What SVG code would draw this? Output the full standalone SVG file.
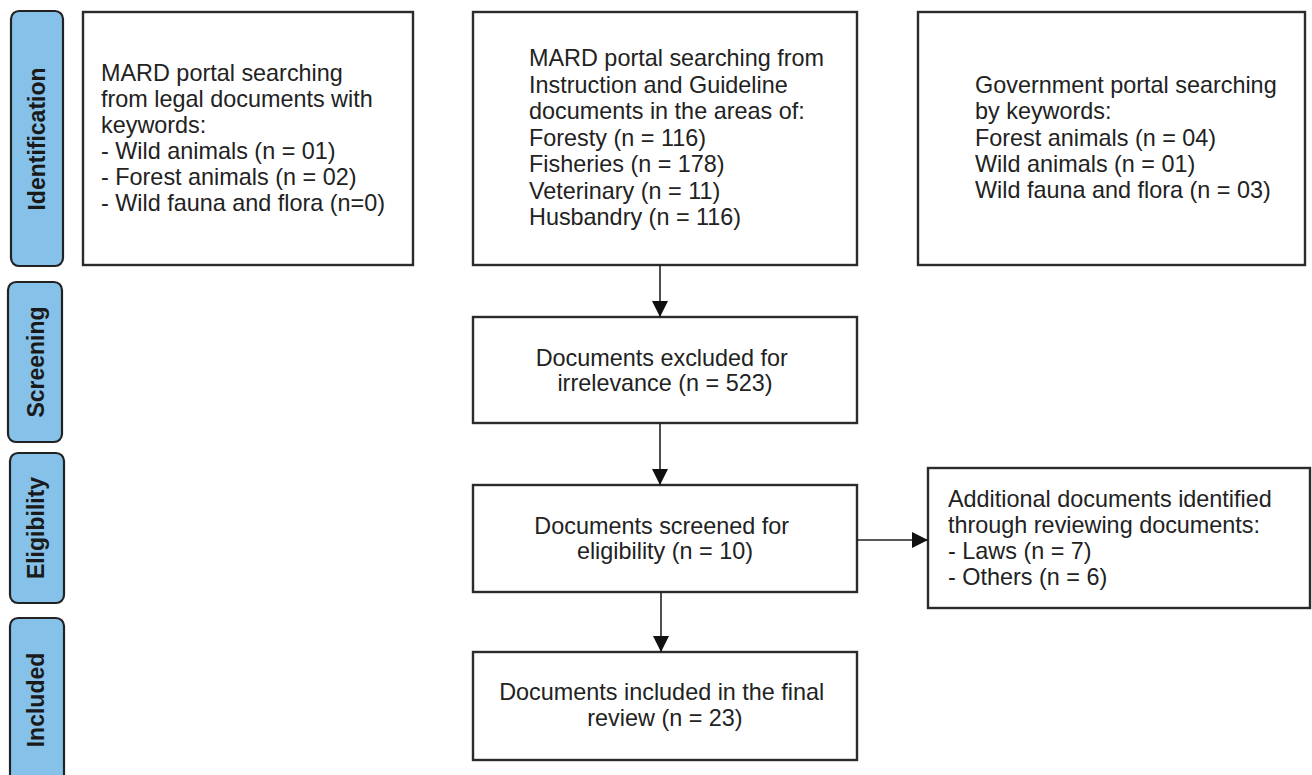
<svg xmlns="http://www.w3.org/2000/svg" width="1312" height="775" viewBox="0 0 1312 775">
  <style>
    .box { fill: #ffffff; stroke: #2b2b2b; stroke-width: 2.4; }
    .tab { fill: #85c1e9; stroke: #222222; stroke-width: 2.2; }
    .txt { font-family: "Liberation Sans", Arial, sans-serif; font-size: 23.4px; fill: #222222; }
    .mid { text-anchor: middle; }
    .tabtxt { font-family: "Liberation Sans", Arial, sans-serif; font-size: 23px; font-weight: bold; fill: #1a1a1a; text-anchor: middle; }
    .link { stroke: #222222; stroke-width: 1.6; fill: none; }
  </style>
  <defs>
    <marker id="arrow" viewBox="0 0 10 10" refX="10" refY="5" markerWidth="16" markerHeight="16" markerUnits="userSpaceOnUse" orient="auto">
      <path d="M0,0 L10,5 L0,10 Z" fill="#111111"/>
    </marker>
  </defs>

  <rect width="1312" height="775" fill="#ffffff"/>

  <!-- Phase tabs -->
  <g id="tab-identification">
    <rect class="tab" x="11" y="11" width="52" height="255" rx="8"/>
    <text class="tabtxt" transform="translate(45,139) rotate(-90)">Identification</text>
  </g>
  <g id="tab-screening">
    <rect class="tab" x="8" y="282" width="54" height="160" rx="8"/>
    <text class="tabtxt" transform="translate(44,362) rotate(-90)">Screening</text>
  </g>
  <g id="tab-eligibility">
    <rect class="tab" x="10" y="453" width="54" height="150" rx="8"/>
    <text class="tabtxt" transform="translate(44,528) rotate(-90)">Eligibility</text>
  </g>
  <g id="tab-included">
    <rect class="tab" x="10" y="618" width="54" height="166" rx="8"/>
    <text class="tabtxt" transform="translate(44,700) rotate(-90)">Included</text>
  </g>

  <!-- Identification sources -->
  <g id="mard-legal">
    <rect class="box" x="83" y="12" width="330" height="253"/>
    <text class="txt">
      <tspan x="101" y="81">MARD portal searching</tspan>
      <tspan x="101" y="107">from legal documents with</tspan>
      <tspan x="101" y="133">keywords:</tspan>
      <tspan x="101" y="159">- Wild animals (n = 01)</tspan>
      <tspan x="101" y="185">- Forest animals (n = 02)</tspan>
      <tspan x="101" y="211">- Wild fauna and flora (n=0)</tspan>
    </text>
  </g>
  <g id="mard-guidelines">
    <rect class="box" x="473" y="12" width="384" height="253"/>
    <text class="txt">
      <tspan x="529" y="66">MARD portal searching from</tspan>
      <tspan x="529" y="92.5">Instruction and Guideline</tspan>
      <tspan x="529" y="119">documents in the areas of:</tspan>
      <tspan x="529" y="145.5">Foresty (n = 116)</tspan>
      <tspan x="529" y="172">Fisheries (n = 178)</tspan>
      <tspan x="529" y="198.5">Veterinary (n = 11)</tspan>
      <tspan x="529" y="225">Husbandry (n = 116)</tspan>
    </text>
  </g>
  <g id="government-portal">
    <rect class="box" x="918" y="12" width="387" height="253"/>
    <text class="txt">
      <tspan x="975" y="93">Government portal searching</tspan>
      <tspan x="975" y="119">by keywords:</tspan>
      <tspan x="975" y="145.5">Forest animals (n = 04)</tspan>
      <tspan x="975" y="172">Wild animals (n = 01)</tspan>
      <tspan x="975" y="198">Wild fauna and flora (n = 03)</tspan>
    </text>
  </g>

  <!-- Main flow -->
  <g id="excluded">
    <rect class="box" x="473" y="317" width="384" height="106"/>
    <text class="txt mid">
      <tspan x="665" y="366">Documents excluded for</tspan>
      <tspan x="665" y="391">irrelevance (n = 523)</tspan>
    </text>
  </g>
  <g id="screened">
    <rect class="box" x="473" y="485" width="384" height="107"/>
    <text class="txt mid">
      <tspan x="665" y="534">Documents screened for</tspan>
      <tspan x="665" y="559">eligibility (n = 10)</tspan>
    </text>
  </g>
  <g id="included">
    <rect class="box" x="473" y="652" width="384" height="108"/>
    <text class="txt mid">
      <tspan x="665" y="700">Documents included in the final</tspan>
      <tspan x="665" y="726">review (n = 23)</tspan>
    </text>
  </g>
  <g id="additional">
    <rect class="box" x="928" y="468" width="382" height="140"/>
    <text class="txt">
      <tspan x="948" y="507">Additional documents identified</tspan>
      <tspan x="948" y="533">through reviewing documents:</tspan>
      <tspan x="948" y="559">- Laws (n = 7)</tspan>
      <tspan x="948" y="585">- Others (n = 6)</tspan>
    </text>
  </g>

  <!-- Connectors -->
  <g id="connectors">
    <line class="link" x1="660" y1="265" x2="660" y2="317" marker-end="url(#arrow)"/>
    <line class="link" x1="660" y1="423" x2="660" y2="485" marker-end="url(#arrow)"/>
    <line class="link" x1="661" y1="592" x2="661" y2="652" marker-end="url(#arrow)"/>
    <line class="link" x1="857" y1="540" x2="928" y2="540" marker-end="url(#arrow)"/>
  </g>
</svg>
